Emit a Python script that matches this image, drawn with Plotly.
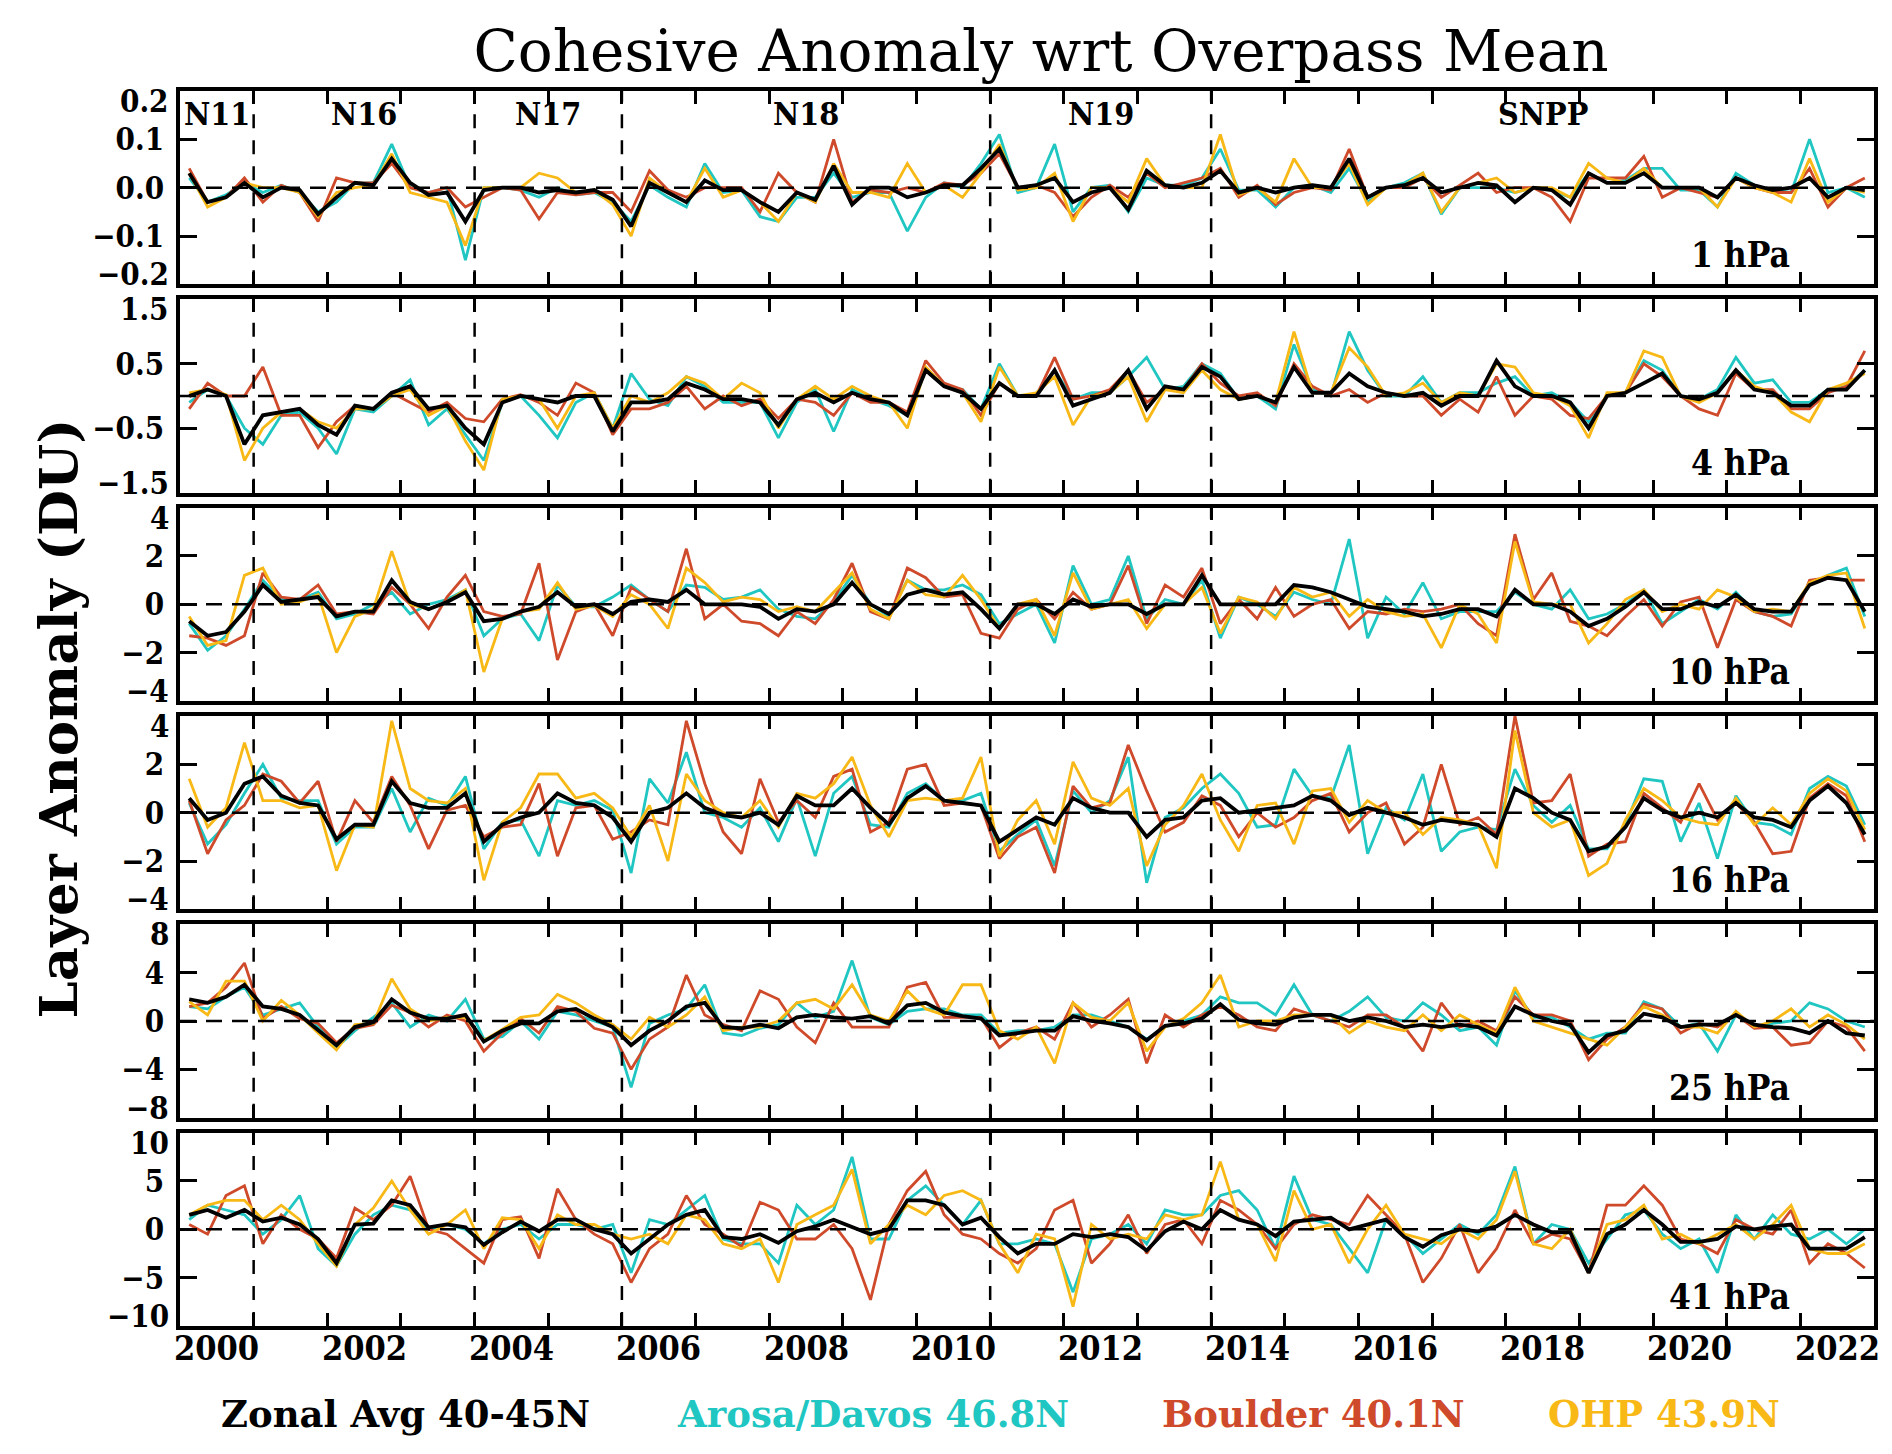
import plotly.graph_objects as go
from plotly.subplots import make_subplots

# --- data: layer anomalies (DU), one value per quarter, 2000 Q1 .. 2022 Q4 ---
quarters = [2000 + (q + 0.5) / 4 for q in range(92)]

# 1 hPa
zonal_1hpa = [
    0.03, -0.03, -0.02, 0.01, -0.02, 0.0, -0.005, -0.055, -0.02, 0.01, 0.005, 0.06,
    0.01, -0.015, -0.01, -0.07, -0.005, 0.0, 0.0, -0.01, -0.005, -0.01, -0.005, -0.025,
    -0.08, 0.01, -0.01, -0.03, 0.015, -0.005, -0.005, -0.03, -0.05, -0.01, -0.025, 0.045,
    -0.035, 0.0, 0.0, -0.02, -0.01, 0.005, 0.005, 0.04, 0.08, 0.0, 0.005, 0.02,
    -0.03, -0.01, 0.0, -0.045, 0.035, 0.005, 0.0, 0.01, 0.035, -0.01, 0.0, -0.01,
    0.0, 0.005, 0.0, 0.06, -0.02, 0.0, 0.005, 0.02, -0.01, 0.0, 0.01, 0.005,
    -0.03, 0.0, -0.005, -0.035, 0.03, 0.01, 0.01, 0.03, 0.0, 0.0, 0.0, -0.02,
    0.02, 0.005, -0.005, 0.0, 0.02, -0.02, 0.0, -0.005,
]
arosa_1hpa = [
    0.02, -0.03, -0.015, 0.01, -0.01, 0.005, -0.01, -0.05, -0.03, 0.01, 0.01, 0.09,
    0.0, -0.01, 0.0, -0.15, 0.0, 0.0, -0.005, -0.02, 0.0, -0.015, -0.01, -0.03,
    -0.07, 0.005, -0.02, -0.04, 0.05, -0.01, -0.005, -0.06, -0.07, -0.02, -0.02, 0.03,
    -0.02, -0.01, -0.01, -0.09, -0.02, 0.01, 0.0, 0.05, 0.11, -0.01, 0.0, 0.09,
    -0.05, 0.0, 0.005, -0.05, 0.02, 0.005, 0.005, 0.02, 0.08, -0.005, -0.005, -0.04,
    0.0, 0.005, -0.01, 0.04, -0.03, 0.0, 0.01, 0.03, -0.055, 0.0, 0.0, 0.0,
    -0.01, 0.0, -0.005, -0.02, 0.03, 0.01, 0.015, 0.04, 0.04, -0.005, -0.005, -0.04,
    0.03, 0.005, -0.005, -0.01, 0.1, -0.01, 0.0, -0.02,
]
boulder_1hpa = [
    0.04, -0.03, -0.02, 0.02, -0.03, 0.005, -0.01, -0.07, 0.02, 0.01, 0.01, 0.05,
    0.0, -0.01, 0.0, -0.04, -0.02, 0.0, -0.005, -0.065, -0.01, -0.015, -0.01, -0.01,
    -0.05, 0.035, -0.005, -0.02, 0.0, 0.0, 0.0, -0.05, 0.03, -0.01, -0.03, 0.1,
    -0.03, -0.005, -0.01, 0.0, -0.01, 0.01, 0.005, 0.03, 0.07, 0.0, 0.005, -0.01,
    -0.06, -0.02, 0.005, -0.02, 0.03, 0.0, 0.01, 0.02, 0.04, -0.02, 0.005, -0.035,
    -0.01, 0.0, -0.005, 0.08, -0.02, 0.0, 0.0, 0.02, -0.02, 0.005, 0.03, -0.01,
    0.0, 0.0, -0.02, -0.07, 0.02, 0.02, 0.02, 0.065, -0.02, 0.0, -0.01, -0.02,
    0.02, 0.0, -0.01, -0.01, 0.04, -0.04, 0.0, 0.02,
]
ohp_1hpa = [
    0.03, -0.04, -0.02, 0.01, 0.0, 0.0, -0.01, -0.06, -0.01, 0.0, 0.005, 0.07,
    -0.01, -0.02, -0.03, -0.12, 0.0, 0.0, 0.0, 0.03, 0.02, -0.01, -0.005, -0.035,
    -0.1, 0.02, -0.01, -0.03, 0.04, -0.02, -0.005, -0.03, -0.07, -0.01, -0.03, 0.05,
    -0.01, -0.01, -0.02, 0.05, -0.01, 0.005, -0.02, 0.03, 0.09, -0.005, 0.0, 0.03,
    -0.07, 0.0, 0.0, -0.03, 0.06, 0.005, 0.0, 0.0, 0.11, -0.015, 0.0, -0.03,
    0.06, 0.0, 0.0, 0.05, -0.035, 0.0, 0.005, 0.03, -0.05, 0.0, 0.01, 0.02,
    -0.01, 0.0, 0.0, -0.02, 0.05, 0.02, 0.01, 0.04, 0.0, 0.0, 0.0, -0.04,
    0.02, 0.0, -0.01, -0.03, 0.06, -0.03, 0.0, -0.01,
]

# 4 hPa
zonal_4hpa = [
    0.0, 0.1, 0.0, -0.75, -0.3, -0.25, -0.2, -0.45, -0.6, -0.15, -0.2, 0.05,
    0.15, -0.2, -0.15, -0.5, -0.75, -0.1, 0.0, -0.05, -0.1, 0.0, 0.0, -0.55,
    -0.1, -0.1, -0.05, 0.2, 0.1, -0.05, -0.05, -0.1, -0.45, -0.05, 0.05, -0.1,
    0.05, -0.05, -0.1, -0.3, 0.4, 0.15, 0.05, -0.2, 0.2, 0.0, 0.0, 0.4,
    -0.15, -0.05, 0.05, 0.4, -0.2, 0.15, 0.1, 0.45, 0.3, -0.05, 0.0, -0.1,
    0.45, 0.05, 0.05, 0.35, 0.15, 0.05, 0.0, 0.05, -0.15, 0.0, 0.0, 0.55,
    0.15, 0.0, 0.0, -0.1, -0.5, 0.0, 0.05, 0.2, 0.35, 0.0, -0.05, 0.05,
    0.4, 0.1, 0.05, -0.15, -0.15, 0.1, 0.1, 0.4,
]
arosa_4hpa = [
    -0.1, 0.1, 0.0, -0.5, -0.75, -0.3, -0.25, -0.5, -0.9, -0.2, -0.25, 0.0,
    0.25, -0.45, -0.2, -0.6, -1.0, -0.1, 0.0, -0.3, -0.65, -0.1, 0.05, -0.5,
    0.35, -0.05, -0.15, 0.3, 0.15, -0.1, -0.1, -0.1, -0.65, -0.1, 0.1, -0.55,
    0.1, -0.05, -0.15, -0.3, 0.4, 0.15, 0.1, -0.2, 0.5, 0.0, 0.02, 0.4,
    -0.05, 0.05, 0.05, 0.3, 0.6, 0.1, 0.15, 0.5, 0.35, -0.05, 0.0, -0.2,
    0.8, 0.1, 0.0, 1.0, 0.4, 0.0, 0.0, 0.3, -0.1, 0.05, 0.05, 0.2,
    0.3, 0.0, 0.05, -0.1, -0.4, 0.0, 0.05, 0.55, 0.4, 0.0, -0.05, 0.1,
    0.6, 0.2, 0.25, -0.1, -0.1, 0.1, 0.15, 0.4,
]
boulder_4hpa = [
    -0.2, 0.2, 0.0, 0.0, 0.45, -0.3, -0.3, -0.8, -0.4, -0.15, -0.2, 0.05,
    -0.1, -0.25, -0.1, -0.35, -0.4, -0.05, 0.02, -0.1, -0.3, 0.2, 0.05, -0.6,
    -0.2, -0.2, -0.1, 0.15, -0.2, 0.0, -0.15, -0.05, -0.35, -0.05, -0.1, -0.3,
    0.05, -0.1, -0.1, -0.25, 0.55, 0.2, 0.1, -0.3, 0.2, 0.0, 0.0, 0.6,
    -0.05, 0.0, 0.1, 0.4, -0.1, 0.1, 0.1, 0.5, 0.2, 0.0, 0.05, -0.15,
    0.5, 0.15, 0.0, 0.1, -0.1, 0.05, 0.0, 0.0, -0.3, -0.05, -0.25, 0.3,
    -0.3, 0.0, -0.05, -0.3, -0.35, 0.0, 0.05, 0.5, 0.3, 0.0, -0.2, -0.3,
    0.35, 0.1, 0.1, -0.2, -0.2, 0.05, 0.15, 0.7,
]
ohp_4hpa = [
    0.05, 0.1, 0.02, -1.0, -0.5, -0.25, -0.2, -0.4, -0.5, -0.2, -0.2, 0.0,
    0.1, -0.3, -0.15, -0.7, -1.15, -0.05, 0.0, -0.05, -0.5, 0.0, 0.05, -0.5,
    0.0, -0.1, 0.05, 0.3, 0.2, -0.05, 0.2, 0.05, -0.5, -0.05, 0.15, -0.05,
    0.15, 0.0, -0.1, -0.5, 0.45, 0.15, 0.05, -0.4, 0.45, 0.0, 0.05, 0.3,
    -0.45, 0.0, 0.05, 0.3, -0.4, 0.1, 0.05, 0.4, 0.1, -0.05, 0.0, -0.1,
    1.0, 0.05, 0.05, 0.75, 0.45, 0.0, 0.05, 0.2, -0.1, 0.05, 0.0, 0.5,
    0.45, 0.05, 0.0, -0.15, -0.65, 0.05, 0.05, 0.7, 0.6, 0.0, -0.1, 0.05,
    0.4, 0.15, 0.05, -0.25, -0.4, 0.1, 0.2, 0.35,
]

# 10 hPa
zonal_10hpa = [
    -0.7, -1.3, -1.15, -0.3, 0.8, 0.1, 0.2, 0.3, -0.5, -0.3, -0.3, 1.0,
    0.1, -0.2, 0.1, 0.5, -0.7, -0.6, -0.3, -0.1, 0.5, -0.1, 0.0, -0.4,
    0.1, 0.2, 0.1, 0.6, 0.0, 0.0, 0.0, -0.1, -0.6, -0.2, -0.3, 0.0,
    0.9, 0.0, -0.4, 0.4, 0.6, 0.4, 0.5, -0.2, -1.0, 0.0, 0.0, -0.4,
    0.2, -0.1, 0.0, 0.0, -0.4, 0.0, 0.0, 1.2, 0.0, 0.0, 0.0, 0.0,
    0.8, 0.7, 0.5, 0.2, -0.1, -0.2, -0.3, -0.5, -0.4, -0.2, -0.2, -0.5,
    0.6, 0.0, 0.0, -0.3, -0.9, -0.6, -0.1, 0.5, -0.2, -0.2, 0.1, -0.1,
    0.4, -0.2, -0.3, -0.3, 0.8, 1.1, 1.0, -0.3,
]
arosa_10hpa = [
    -0.8, -1.9, -1.3, -0.2, 1.0, 0.2, 0.2, 0.5, -0.6, -0.4, 0.0, 0.5,
    -0.4, 0.0, 0.2, 0.6, -1.3, -0.6, -0.4, -1.5, 0.8, -0.1, -0.1, 0.3,
    0.8, 0.2, -0.3, 0.8, 0.7, 0.2, 0.3, 0.6, -0.2, -0.5, -0.6, 0.1,
    1.2, 0.0, -0.5, 1.0, 0.6, 0.6, 0.8, 0.4, -0.8, -0.4, 0.0, -1.6,
    1.6, 0.0, 0.2, 2.0, -0.6, 0.2, 0.0, 1.0, -1.4, 0.3, 0.0, -0.5,
    0.5, 0.2, 0.0, 2.7, -1.4, 0.3, -0.4, 0.9, -0.6, -0.3, -0.3, -0.3,
    0.5, 0.0, -0.2, 0.6, -0.6, -0.4, 0.0, 0.6, -0.8, -0.3, 0.2, -0.2,
    0.5, -0.3, -0.5, -0.4, 0.8, 1.2, 1.5, -0.5,
]
boulder_10hpa = [
    -1.3, -1.4, -1.7, -1.3, 1.3, 0.3, 0.2, 0.8, -0.4, -0.3, -0.4, 0.7,
    0.0, -1.0, 0.3, 1.2, -0.3, -0.5, -0.4, 1.7, -2.3, -0.3, 0.0, -1.3,
    0.7, 0.2, -0.3, 2.3, -0.6, 0.0, -0.7, -0.8, -1.3, -0.3, -0.8, 0.2,
    1.7, -0.3, -0.6, 1.5, 1.1, 0.3, 0.4, -1.2, -1.4, -0.2, 0.2, -0.6,
    0.5, -0.2, 0.0, 1.6, -0.8, 0.8, 0.3, 1.5, -0.8, 0.2, -0.6, 0.7,
    -0.5, 0.0, 0.2, -1.0, -0.3, -0.4, -0.2, -0.3, -0.2, 0.0, -0.8, -1.3,
    2.9, 0.2, 1.3, -0.7, -0.9, -1.3, -0.5, 0.2, -0.9, 0.1, 0.3, -1.8,
    0.2, -0.3, -0.5, -0.9, 1.0, 1.1, 1.0, 1.0,
]
ohp_10hpa = [
    -0.5, -1.7, -1.5, 1.2, 1.5, 0.0, 0.1, 0.4, -2.0, -0.5, -0.2, 2.2,
    0.0, -0.2, 0.1, 0.6, -2.8, -0.6, -0.3, -0.2, 0.9, -0.2, -0.05, -0.5,
    0.4, 0.0, -1.0, 1.5, 0.9, 0.1, 0.3, 0.2, -0.3, -0.1, -0.3, 0.5,
    1.3, -0.2, -0.6, 1.0, 0.4, 0.3, 1.2, 0.2, -1.0, 0.0, 0.2, -1.3,
    1.3, -0.2, 0.0, 0.2, -1.0, 0.0, 0.0, 0.7, -1.2, 0.3, 0.1, -0.6,
    0.7, 0.3, 0.5, -0.5, 0.2, -0.3, -0.5, -0.4, -1.8, 0.0, -0.4, -1.6,
    2.6, 0.1, 0.0, 0.0, -1.6, -0.8, 0.2, 0.6, -0.3, 0.0, -0.2, 0.6,
    0.3, -0.3, -0.2, -0.3, 0.9, 1.2, 1.3, -1.0,
]

# 16 hPa
zonal_16hpa = [
    0.6, -0.3, 0.0, 1.2, 1.5, 0.7, 0.4, 0.3, -1.1, -0.5, -0.5, 1.3,
    0.4, 0.2, 0.2, 0.8, -1.2, -0.5, -0.2, 0.0, 0.8, 0.4, 0.3, -0.2,
    -1.2, 0.0, 0.2, 0.8, 0.2, -0.1, -0.2, 0.0, -0.5, 0.7, 0.3, 0.3,
    1.0, 0.2, -0.5, 0.6, 1.1, 0.5, 0.4, 0.3, -1.2, -0.7, -0.2, -0.5,
    0.6, 0.2, 0.0, 0.0, -1.0, -0.3, -0.2, 0.5, 0.6, 0.0, 0.1, 0.2,
    0.3, 0.7, 0.5, -0.1, 0.2, 0.0, -0.2, -0.5, -0.3, -0.4, -0.5, -1.0,
    1.0, 0.6, 0.0, -0.3, -1.6, -1.4, -0.6, 0.6, 0.1, -0.2, 0.0, -0.2,
    0.4, -0.2, -0.3, -0.6, 0.5, 1.1, 0.4, -0.9,
]
arosa_16hpa = [
    0.4, -1.3, -0.5, 0.8, 2.0, 0.6, 0.5, 0.5, -1.3, -0.6, -0.6, 1.0,
    -0.8, 0.6, 0.3, 1.5, -1.5, -0.4, -0.3, -1.8, 0.5, 0.3, 0.5, 0.1,
    -2.5, 1.4, 0.4, 2.5, 0.0, -0.2, -0.6, 0.2, -1.2, 0.6, -1.8, 0.8,
    1.5, -0.5, -0.6, 0.8, 1.2, 0.5, 0.5, 0.8, -1.6, -0.9, -0.3, -2.2,
    0.9, 0.0, 0.5, 2.3, -2.9, -0.2, 0.2, 1.0, 1.6, 0.8, -0.6, -0.5,
    1.8, 0.7, 0.6, 2.8, -1.7, 0.2, -0.3, 1.6, -1.6, -0.8, -0.6, -0.7,
    1.8, 0.3, -0.4, 0.3, -1.5, -1.5, -0.5, 1.4, 1.3, -1.2, 0.4, -1.9,
    0.7, -0.4, -0.5, -0.9, 1.0, 1.5, 1.1, -0.5,
]
boulder_16hpa = [
    0.5, -1.7, -0.3, 0.3, 1.6, 1.3, 0.4, 1.3, -1.2, 0.5, -0.4, 1.5,
    0.3, -1.5, 0.1, 0.3, -1.0, -0.6, -0.5, 1.2, -1.8, 0.2, 0.3, -1.1,
    -0.8, -0.3, -0.5, 3.8, 1.2, -0.8, -1.7, 1.4, -0.4, 0.5, -0.2, 1.5,
    1.8, -0.8, -0.4, 1.8, 2.0, 0.3, 0.4, 0.3, -1.9, -1.0, -0.6, -2.5,
    1.1, 0.2, 0.4, 2.8, 0.9, -0.8, -0.4, 0.7, 0.3, -1.0, 0.0, -0.6,
    -0.2, 0.5, 0.8, -0.8, 0.0, 0.4, -1.3, -0.6, 2.0, -0.5, -0.2, -0.9,
    4.0, 0.4, 0.5, 1.6, -1.8, -1.3, -1.2, 0.8, 0.2, -0.4, 1.2, -0.3,
    0.4, -0.4, -1.7, -1.6, 0.6, 1.2, 0.7, -1.2,
]
ohp_16hpa = [
    1.4, -0.6, 0.2, 2.9, 0.5, 0.5, 0.2, 0.3, -2.4, -0.5, -0.6, 3.8,
    1.0, 0.5, 0.4, 1.0, -2.8, -0.4, 0.2, 1.6, 1.6, 0.6, 0.8, 0.2,
    -1.0, 0.3, -2.0, 1.6, 0.5, 0.0, -0.2, 0.5, -0.6, 0.8, 0.6, 1.2,
    2.3, 0.3, -1.0, 0.5, 0.6, 0.5, 0.6, 2.3, -1.8, -0.3, 0.5, -1.3,
    2.1, 0.6, 0.3, 1.0, -2.2, -0.5, 0.3, 1.6, -0.3, -1.6, 0.3, 0.4,
    -1.3, 0.9, 1.0, -0.4, 0.5, 0.0, 0.0, -0.9, -0.2, -0.3, -0.5, -2.3,
    3.4, 0.0, -0.6, -0.3, -2.6, -2.1, -0.3, 1.0, 0.5, -0.2, -0.4, -0.5,
    0.6, -0.5, 0.2, -0.5, 0.8, 1.4, 0.9, -0.7,
]

# 25 hPa
zonal_25hpa = [
    1.8, 1.5, 2.0, 3.0, 1.2, 1.0, 0.5, -0.7, -2.0, -0.5, -0.1, 1.8,
    0.7, 0.2, 0.2, 0.5, -1.7, -0.8, -0.2, -0.2, 0.8, 1.0, 0.2, -0.5,
    -2.0, -0.8, 0.0, 1.2, 1.5, -0.5, -0.6, -0.3, -0.6, 0.3, 0.5, 0.3,
    0.2, 0.4, -0.2, 1.3, 1.5, 0.7, 0.4, 0.2, -1.2, -1.0, -0.8, -0.8,
    0.4, 0.0, -0.2, -0.5, -1.6, -0.4, -0.2, 0.2, 1.4, 0.1, -0.2, -0.3,
    0.3, 0.5, 0.5, 0.0, 0.3, 0.0, -0.5, -0.3, -0.5, -0.3, -0.5, -1.2,
    1.2, 0.5, 0.0, -0.3, -2.6, -1.2, -0.8, 0.6, 0.3, -0.5, -0.3, -0.3,
    0.5, -0.3, -0.5, -0.6, -1.0, 0.0, -1.0, -1.2,
]
arosa_25hpa = [
    1.2, 1.0, 2.0, 2.8, 0.5, 1.0, 1.5, -0.5, -2.2, -0.8, 0.3, 1.5,
    -0.5, 0.5, 0.0, 1.8, -1.5, -1.3, 0.0, -1.5, 0.8, 0.5, 0.0, -0.5,
    -5.5, -0.2, 0.5, 1.0, 3.0, -1.0, -1.2, -0.6, -0.3, 1.5, 0.3, 0.8,
    5.0, 0.3, -0.3, 0.8, 1.0, 1.0, 0.5, 0.5, -1.0, -0.8, -0.8, -0.5,
    0.5, 0.5, 0.0, -0.5, -1.5, -0.5, 0.0, 0.5, 2.0, 1.5, 1.5, 0.5,
    3.0, 0.5, 0.0, 0.8, 2.0, 0.3, 0.0, 1.5, 0.5, -0.8, -0.5, -2.0,
    2.5, 0.3, 0.3, -0.5, -1.5, -1.0, -1.0, 1.6, 1.0, -0.5, -0.2, -2.5,
    0.5, -0.5, -0.2, 0.0, 1.5, 1.0, 0.0, -0.5,
]
boulder_25hpa = [
    1.2, 1.5, 2.8, 4.8, 0.2, 1.2, 0.2, -0.2, -1.8, -0.6, -0.3, 1.3,
    0.7, -0.5, 0.5, 0.0, -2.5, -1.0, 0.2, -1.0, 1.2, 0.8, -0.6, -1.0,
    -4.0, -1.5, -0.5, 3.8, 0.5, -0.3, -0.8, 2.5, 1.8, -0.5, -1.8, 1.5,
    -0.5, -0.5, -0.5, 2.8, 3.2, 0.3, 0.3, 0.3, -2.2, -1.0, -0.5, -1.5,
    1.5, -0.5, 0.5, 1.8, -3.5, 0.5, -0.5, 0.5, 1.2, 0.5, -0.5, -0.8,
    1.0, 0.5, 0.0, -0.5, 0.5, 0.5, -0.5, -2.5, 1.5, -0.5, 0.0, -0.8,
    2.0, 0.5, 0.5, 0.0, -3.2, -1.5, -0.5, 1.4, 1.0, -1.0, -0.2, -0.5,
    0.5, -0.6, -0.5, -2.0, -1.8, 0.0, -0.5, -2.5,
]
ohp_25hpa = [
    1.6, 0.5, 3.3, 3.3, 0.0, 1.7, 0.5, -1.0, -2.4, -0.3, -0.2, 3.5,
    1.0, 0.0, 0.3, 0.3, -1.6, -0.7, 0.3, 0.5, 2.2, 1.5, 0.5, -0.3,
    -1.5, 0.3, -0.5, 0.5, 2.0, -0.8, -0.5, -0.5, 0.0, 1.5, 1.8, 1.0,
    3.0, 0.5, 0.0, 2.5, 1.0, 0.5, 3.0, 3.0, -0.8, -1.5, -0.5, -3.5,
    1.5, 0.3, 0.0, 1.5, -2.5, -0.5, 0.2, 1.5, 3.8, -0.5, 0.0, 0.0,
    0.5, 0.5, 0.5, -1.0, 0.0, -0.5, -0.8, 0.5, -0.8, 0.5, -0.3, -1.0,
    2.8, 0.0, -0.5, -1.0, -1.5, -2.0, -0.5, 1.2, 0.5, -0.5, -0.5, -1.0,
    0.8, -0.5, 0.0, 1.0, -0.5, 0.5, -0.3, -1.5,
]

# 41 hPa
zonal_41hpa = [
    1.5, 2.0, 1.2, 2.0, 0.8, 1.2, 0.5, -1.0, -3.5, 0.5, 0.6, 3.0,
    2.5, 0.2, 0.5, 0.2, -1.6, -0.3, 0.8, -0.2, 1.0, 1.0, 0.0, -0.5,
    -2.5, -1.0, 0.5, 1.5, 2.0, -0.8, -1.0, -0.5, -1.4, -0.2, 0.3, 1.0,
    0.3, -0.5, 0.0, 3.0, 3.0, 2.5, 0.5, 1.2, -0.8, -2.5, -1.5, -1.5,
    -0.5, -0.8, -0.5, -0.8, -2.2, -0.2, 0.8, 0.0, 2.0, 1.0, 0.5, -0.7,
    0.8, 1.0, 1.2, 0.0, 0.5, 1.0, -0.8, -1.8, -0.6, 0.0, -0.2, 0.3,
    1.5, 0.5, -0.3, -0.3, -4.5, -0.5, 0.5, 2.0, 0.5, -1.3, -1.3, -1.0,
    0.3, 0.0, 0.3, 0.5, -2.0, -2.0, -2.0, -0.8,
]
arosa_41hpa = [
    1.0, 2.5, 2.0, 1.5, -0.5, 1.0, 3.5, -2.0, -3.8, -0.5, 1.5, 2.5,
    2.0, 0.0, 0.5, 0.0, -1.5, 0.0, 0.5, -1.0, 0.5, 0.5, 0.0, 0.5,
    -4.5, 1.0, 0.5, 2.0, 3.5, -1.0, -1.5, -1.5, -3.5, 2.5, 0.5, 2.0,
    7.5, -1.0, -1.0, 3.0, 4.5, 2.5, 0.5, 3.0, -1.5, -1.5, -1.0, -1.5,
    -6.5, -1.0, -0.5, 0.5, -1.5, 2.0, 1.5, 1.5, 3.5, 4.0, 2.0, -2.0,
    5.5, 1.0, 0.5, -2.0, -4.5, 1.0, -0.5, -2.5, -1.0, 0.5, -0.5, 1.5,
    6.5, -1.5, 0.5, 0.0, -3.5, -1.0, 1.5, 2.0, -0.5, -2.0, -1.0, -4.5,
    1.5, -1.0, 1.5, -0.5, -1.0, 0.0, -1.5, 0.0,
]
boulder_41hpa = [
    0.5, -0.5, 3.5, 4.5, -1.5, 1.5, 0.0, -1.0, -3.0, 2.2, 1.0, 2.5,
    5.5, 0.0, -0.5, -2.0, -3.5, 1.0, 1.3, -3.0, 4.2, 1.0, -0.5, -1.5,
    -5.5, -2.0, -0.5, 3.5, 0.5, -0.5, -1.8, 2.8, 2.0, -1.0, -1.0, 0.5,
    -2.0, -7.3, 0.5, 4.0, 6.0, 1.5, -0.5, -1.0, -2.5, -3.5, -2.0, 2.0,
    3.0, -3.5, -1.5, 1.5, -2.5, 0.5, 1.0, -1.5, 3.0, 2.0, 0.5, -2.0,
    0.5, 1.5, 1.0, 0.5, 3.5, 1.5, -0.5, -5.5, -3.0, 0.5, -4.5, -2.0,
    2.0, -1.5, -0.5, -1.0, -4.5, 2.5, 2.5, 4.5, 2.5, -1.0, -1.5, -2.5,
    1.0, 0.0, -0.5, 2.0, -3.5, -1.5, -2.5, -4.0,
]
ohp_41hpa = [
    1.5, 2.5, 3.0, 3.0, 1.0, 2.5, 1.0, -1.5, -3.8, 0.5, 2.2, 5.0,
    2.0, -0.5, 0.5, 2.0, -2.0, 1.2, 1.0, -2.0, 1.5, 0.5, 0.5, -0.5,
    -1.0, -0.5, -1.5, 1.5, 1.0, -1.5, -2.0, -1.0, -5.5, 0.5, 1.5, 2.5,
    6.2, -1.5, 0.5, 2.5, 1.5, 3.5, 4.0, 3.0, -1.5, -4.5, -0.5, -1.0,
    -8.0, 0.5, -1.0, -0.5, -1.0, 1.5, 1.0, 1.5, 7.0, 1.0, 0.5, -3.3,
    4.0, 0.0, 0.5, -3.5, 0.0, 2.5, -0.5, -1.0, -1.5, 0.0, -1.0, 1.0,
    6.0, -1.5, -2.0, 0.0, -4.5, 0.5, 1.0, 2.5, -1.0, -0.5, -1.5, -0.5,
    0.5, -1.0, 0.5, 2.5, -2.0, -2.5, -2.5, -1.5,
]

levels = ['1 hPa', '4 hPa', '10 hPa', '16 hPa', '25 hPa', '41 hPa']
zonal = [zonal_1hpa, zonal_4hpa, zonal_10hpa, zonal_16hpa, zonal_25hpa, zonal_41hpa]
arosa = [arosa_1hpa, arosa_4hpa, arosa_10hpa, arosa_16hpa, arosa_25hpa, arosa_41hpa]
boulder = [boulder_1hpa, boulder_4hpa, boulder_10hpa, boulder_16hpa, boulder_25hpa, boulder_41hpa]
ohp = [ohp_1hpa, ohp_4hpa, ohp_10hpa, ohp_16hpa, ohp_25hpa, ohp_41hpa]

# axis limits; inner ticks get regular tick labels, the limit labels sit just inside the frame
y_limits = [0.2, 1.5, 4, 4, 8, 10]
y_limit_text = [('0.2', '\u22120.2'), ('1.5', '\u22121.5'), ('4', '\u22124'),
                ('4', '\u22124'), ('8', '\u22128'), ('10', '\u221210')]
y_tickvals = [
    [-0.1, 0.0, 0.1],
    [-0.5, 0.5],
    [-2, 0, 2],
    [-2, 0, 2],
    [-4, 0, 4],
    [-5, 0, 5],
]
y_ticktext = [
    ['\u22120.1', '0.0', '0.1'],
    ['\u22120.5', '0.5'],
    ['\u22122', '0', '2'],
    ['\u22122', '0', '2'],
    ['\u22124', '0', '4'],
    ['\u22125', '0', '5'],
]

years = list(range(2000, 2024))
year_labels = [str(y) for y in range(2000, 2023, 2)]

satellites = ['N11', 'N16', 'N17', 'N18', 'N19', 'SNPP']
satellite_centres = [2000.5, 2002.5, 2005.0, 2008.5, 2012.5, 2018.5]
satellite_changes = [2001, 2004, 2006, 2011, 2014]

# --- colours / fonts ---
C_AROSA = '#20c6c1'
C_BOULDER = '#cf4a2a'
C_OHP = '#f8b917'
FONT = 'DejaVu Serif'
FONT_NARROW = 'DejaVu Serif Condensed, DejaVu Serif'
TICK_FONT = dict(family=FONT_NARROW, size=31, color='black', weight='bold')

fig = make_subplots(rows=6, cols=1, shared_xaxes=True, vertical_spacing=15 / 1235)

for i in range(6):
    r = i + 1
    for vals, colour, width in ((arosa[i], C_AROSA, 2.8), (boulder[i], C_BOULDER, 2.8),
                                (ohp[i], C_OHP, 2.8), (zonal[i], 'black', 3.8)):
        fig.add_trace(go.Scatter(x=quarters, y=vals, mode='lines',
                                 line=dict(color=colour, width=width),
                                 showlegend=False, hoverinfo='skip'), row=r, col=1)
    fig.add_hline(y=0, line=dict(color='black', width=2.5, dash='16px,10px'), row=r, col=1)
    for xv in satellite_changes:
        fig.add_vline(x=xv, line=dict(color='black', width=2.5, dash='14px,12px'), row=r, col=1)
    fig.update_yaxes(range=[-y_limits[i], y_limits[i]], tickvals=y_tickvals[i],
                     ticktext=y_ticktext[i], row=r, col=1)
    top_txt, bot_txt = y_limit_text[i]
    fig.add_annotation(text=top_txt, xref='x domain', yref='y domain', x=0, y=1,
                       xanchor='right', yanchor='middle', xshift=-9, yshift=-10,
                       showarrow=False, font=TICK_FONT, row=r, col=1)
    fig.add_annotation(text=bot_txt, xref='x domain', yref='y domain', x=0, y=0,
                       xanchor='right', yanchor='middle', xshift=-9, yshift=10,
                       showarrow=False, font=TICK_FONT, row=r, col=1)
    fig.add_annotation(text=levels[i], xref='x domain', yref='y domain', x=0.9516, y=0.155,
                       xanchor='right', yanchor='middle', showarrow=False,
                       font=dict(family=FONT_NARROW, size=35, color='black', weight='bold'),
                       row=r, col=1)

# satellite period labels in the top panel
for name, xc in zip(satellites, satellite_centres):
    fig.add_annotation(text=name, x=xc, y=0.88, xref='x', yref='y domain',
                       xanchor='center', yanchor='middle', showarrow=False,
                       font=dict(family=FONT_NARROW, size=32, color='black', weight='bold'),
                       row=1, col=1)

# year labels sit in the middle of each labelled year, under the bottom panel
for lab in year_labels:
    fig.add_annotation(text=lab, x=int(lab) + 0.5, y=-0.0175, xref='x6', yref='paper',
                       xanchor='center', yanchor='middle', showarrow=False,
                       font=dict(family=FONT_NARROW, size=34, color='black', weight='bold'))

fig.update_xaxes(range=[2000, 2023], tickvals=years, ticktext=[''] * len(years),
                 ticks='inside', ticklen=13, tickwidth=3, tickcolor='black',
                 showline=True, linewidth=3.5, linecolor='black',
                 mirror='allticks', showgrid=False, zeroline=False)
fig.update_yaxes(ticks='inside', ticklen=17, tickwidth=3, tickcolor='black',
                 showline=True, linewidth=3.5, linecolor='black', mirror='allticks',
                 showgrid=False, zeroline=False, ticklabelstandoff=6, tickfont=TICK_FONT)

# y title and colour-coded legend text
fig.add_annotation(text='Layer Anomaly (DU)', xref='paper', yref='paper', x=-0.072, y=0.492,
                   textangle=-90, showarrow=False, xanchor='center', yanchor='middle',
                   font=dict(family=FONT, size=53, color='black', weight='bold'))
legend_items = [('Zonal Avg 40-45N', 'black', 0.1334), ('Arosa/Davos 46.8N', C_AROSA, 0.4091),
                ('Boulder 40.1N', C_BOULDER, 0.6694), ('OHP 43.9N', C_OHP, 0.876)]
for txt, colour, xp in legend_items:
    fig.add_annotation(text=txt, xref='paper', yref='paper', x=xp, y=-0.0713,
                       showarrow=False, xanchor='center', yanchor='middle',
                       font=dict(family=FONT, size=37, color=colour, weight='bold'))

fig.update_layout(
    width=1892, height=1454,
    title=dict(text='Cohesive Anomaly wrt Overpass Mean', x=0.546, y=0.9704,
               xanchor='center', yanchor='middle', xref='container', yref='container',
               font=dict(family=FONT, size=58, color='black')),
    margin=dict(l=172, r=26, t=83, b=136),
    paper_bgcolor='white', plot_bgcolor='white',
    font=dict(family=FONT, color='black'),
    showlegend=False,
)

fig.write_html('out.html')
